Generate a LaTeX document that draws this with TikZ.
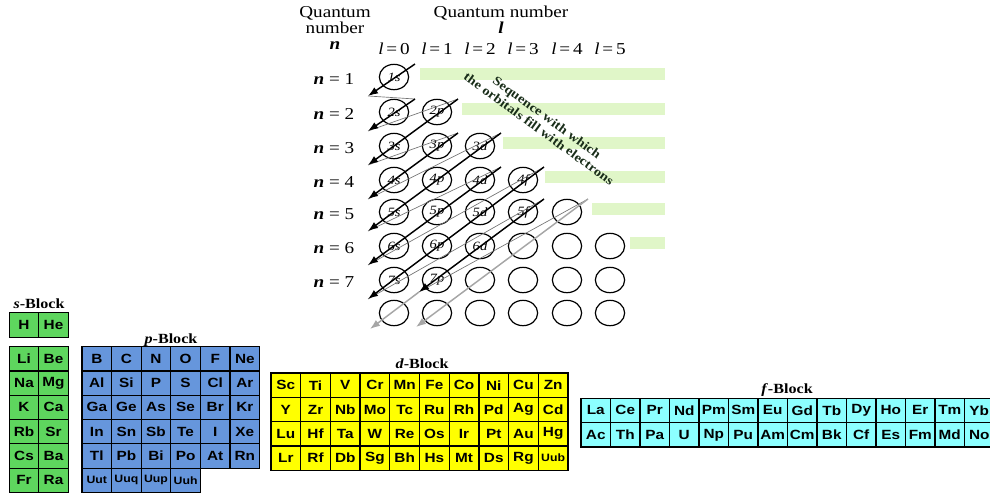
\documentclass[tikz,border=0pt]{standalone}
\usepackage{fontspec}
\setmainfont{Liberation Serif}[FakeStretch=1.15]
\newfontfamily\cellfont{Liberation Sans}[FakeStretch=1.15]
\usetikzlibrary{arrows.meta,positioning,calc,shapes.geometric}
\definecolor{sgreen}{RGB}{94,214,94}
\definecolor{pblue}{RGB}{102,150,220}
\definecolor{dyellow}{RGB}{255,255,0}
\definecolor{fcyan}{RGB}{140,255,255}
\definecolor{barfill}{RGB}{224,246,200}
\definecolor{seqtext}{RGB}{25,45,25}

\begin{document}
\begin{tikzpicture}[x=0.75pt,y=-0.75pt,>=Latex,
  orb/.style={draw,ellipse,line width=0.9pt,minimum width=22pt,minimum height=19pt,inner sep=0pt,font=\fontsize{9.5}{10}\selectfont\itshape},
  hdr/.style={align=center,font=\fontsize{12.5}{12}\selectfont},
  lab/.style={font=\fontsize{12.5}{13}\selectfont},
  fillarrow/.style={-{Latex[length=7.5pt,width=5.5pt]},line width=1.1pt},
  greyarrow/.style={fillarrow,draw=black!35},
  backline/.style={line width=0.5pt,draw=black!55},
  cell/.style={draw,line width=0.9pt,minimum width=22.2pt,minimum height=18.2pt,inner sep=0pt,font=\cellfont\bfseries\fontsize{10}{10}\selectfont},
  smallcell/.style={font=\cellfont\bfseries\fontsize{8}{8}\selectfont},
  scell/.style={cell,fill=sgreen},
  pcell/.style={cell,fill=pblue},
  dcell/.style={cell,fill=dyellow},
  fcell/.style={cell,fill=fcyan},
  blocklab/.style={font=\bfseries\fontsize{10.5}{11}\selectfont},
  seq/.style={rotate=-36,align=center,text=seqtext,font=\bfseries\fontsize{9.5}{10.5}\selectfont}]
\useasboundingbox (0,0) rectangle (990,494);
\clip (0,0) rectangle (990,494);

\foreach \row/\y/\bx in {1/77/420,2/112/462,3/146/503,4/180/545,5/212/592,6/246/630}
  \fill[fill=barfill] (\bx,\y-9) rectangle (665,\y+3);

\node[hdr] (nhead) at (335,28) {Quantum\\number\\\textbf{\textit{n}}};
\node[hdr] (lhead) at (501,20) {Quantum number\\\textbf{\textit{l}}};

\foreach \col/\x in {0/394,1/437,2/480,3/523,4/567,5/610}
  \node[lab] (l\col) at (\x,49) {\textit{l}\,=\,\col};

\foreach \row/\y in {1/77,2/112,3/146,4/180,5/212,6/246,7/280,8/313}{
  \ifnum\row<8\relax
    \node[lab] (n\row) at (334,\y+2) {\textbf{\textit{n}} = \row};
  \fi
  \foreach \col/\x/\sub in {0/394/s,1/437/p,2/480/d,3/523/f,4/567/g,5/610/h}{
    \ifnum\col<\row\relax
      \pgfmathtruncatemacro\kk{\row+\col}
      \ifnum\kk<9\relax
        \ifnum\row<8\relax
          \node[orb] (o\row\col) at (\x,\y) {\row\sub};
        \else
          \node[orb] (o\row\col) at (\x,\y) {};
        \fi
      \else
        \node[orb] (o\row\col) at (\x,\y) {};
      \fi
    \fi
  }
}

\foreach \k/\t/\b in {1/10/10,2/20/20,3/21/30,4/31/40,5/32/50,6/42/60,7/43/70}{
  \coordinate (s\k) at ($(o\t)+(21,-13)$);
  \coordinate (e\k) at ($(o\b)+(-26,19)$);
}
\coordinate (s8) at ($(o53)+(21,-13)$);
\coordinate (e8) at ($(o71)+(-18,12)$);
\coordinate (f8) at ($(o80)+(-24,16)$);
\coordinate (s9) at ($(o54)+(21,-13)$);
\coordinate (e9) at ($(o81)+(-21,14)$);

\foreach \k [evaluate=\k as \j using int(\k+1)] in {1,...,8}
  \draw[backline] (e\k) -- (s\j);
\foreach \k in {1,...,8}
  \draw[fillarrow] (s\k) -- (e\k);
\draw[greyarrow] (e8) -- (f8);
\draw[greyarrow] (s9) -- (e9);

\node[seq] (seqtxt) at (543,123) {Sequence with which\\the orbitals fill with electrons};

\node[blocklab] (sblock) at (39,304) {\textit{s}-Block};
\node[scell] (H) at (24,325) {H};
\node[scell] (He) at (53.5,325) {He};
\foreach \a/\b [count=\r from 0] in {Li/Be,Na/Mg,K/Ca,Rb/Sr,Cs/Ba,Fr/Ra}{
  \node[scell] (\a) at (24,{358.8+24.3*\r}) {\a};
  \node[scell] (\b) at (53.5,{358.8+24.3*\r}) {\b};
}

\node[blocklab] (pblock) at (171,340) {\textit{p}-Block};
\foreach \line [count=\r from 0] in {{B,C,N,O,F,Ne},{Al,Si,P,S,Cl,Ar},{Ga,Ge,As,Se,Br,Kr},{In,Sn,Sb,Te,I,Xe},{Tl,Pb,Bi,Po,At,Rn}}{
  \foreach \el [count=\i from 0] in \line
    \node[pcell] (\el) at ({96.8+29.6*\i},{358.8+24.3*\r}) {\el};
}
\foreach \el [count=\i from 0] in {Uut,Uuq,Uup,Uuh}
  \node[pcell,smallcell] (\el) at ({96.8+29.6*\i},480.3) {\el};

\node[blocklab] (dblock) at (422,364) {\textit{d}-Block};
\foreach \line [count=\r from 0] in {{Sc,Ti,V,Cr,Mn,Fe,Co,Ni,Cu,Zn},{Y,Zr,Nb,Mo,Tc,Ru,Rh,Pd,Ag,Cd},{Lu,Hf,Ta,W,Re,Os,Ir,Pt,Au,Hg},{Lr,Rf,Db,Sg,Bh,Hs,Mt,Ds,Rg}}{
  \foreach \el [count=\i from 0] in \line
    \node[dcell] (\el) at ({285.85+29.7*\i},{385.2+24.3*\r}) {\el};
}
\node[dcell,smallcell] (Uub) at ({285.85+29.7*9},{385.2+24.3*3}) {Uub};

\node[blocklab] (fblock) at (787,390) {\textit{f}-Block};
\foreach \line [count=\r from 0] in {{La,Ce,Pr,Nd,Pm,Sm,Eu,Gd,Tb,Dy,Ho,Er,Tm,Yb},{Ac,Th,Pa,U,Np,Pu,Am,Cm,Bk,Cf,Es,Fm,Md,No}}{
  \foreach \el [count=\i from 0] in \line
    \node[fcell] (\el) at ({595.75+29.5*\i},{410.3+24.5*\r}) {\el};
}
\end{tikzpicture}
\end{document}
